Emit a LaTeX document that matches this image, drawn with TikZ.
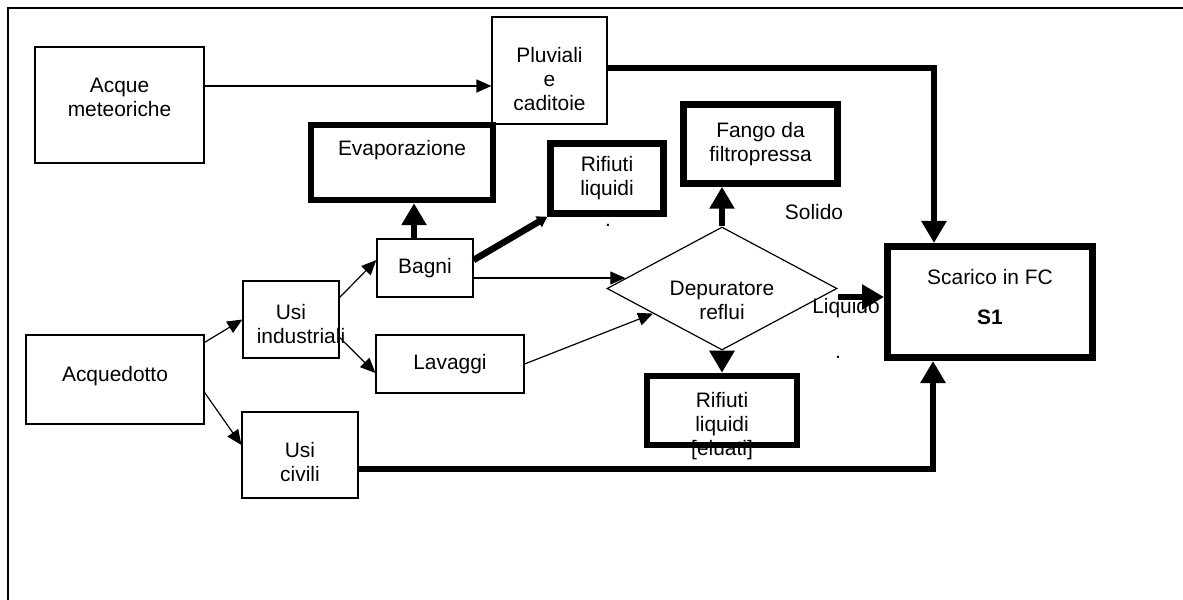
\documentclass[tikz,border=0pt]{standalone}
\usepackage{fontspec}
\setmainfont{Liberation Sans}
\usepackage{tikz}
\usetikzlibrary{positioning}
\usetikzlibrary{shapes.geometric}
\usetikzlibrary{arrows.meta}

\newcommand{\shifted}[2]{\raisebox{#1}[0pt][0pt]{\begin{tabular}{@{}c@{}}#2\end{tabular}}}

\begin{document}
\begin{tikzpicture}[x=1bp, y=-1bp,
    font=\fontsize{21}{24}\selectfont,
    box/.style={draw, line width=1.2bp, align=center, inner sep=0pt},
    boldbox/.style={draw, line width=6.5bp, align=center, inner sep=0pt},
    flow/.style={line width=1.2bp, -{Triangle[length=15bp, width=13bp]}},
    boldflow/.style={line width=6.5bp, -{Triangle[length=22bp, width=24bp]}}
    ]
\useasboundingbox (0,0) rectangle (1183,600);
\draw[line width=2bp] (8,600) -- (8,8) -- (1183,8);

% sources
\node[box, minimum width=169bp, minimum height=116bp] (acque) at (119.5,105) {\shifted{0bp}{Acque\\meteoriche}};
\node[box, minimum width=115bp, minimum height=107bp] (pluv) at (549.5,70.5) {\shifted{-16.5bp}{Pluviali\\e\\caditoie}};
\node[box, minimum width=178bp, minimum height=89bp] (acqued) at (115,379.5) {\shifted{-2bp}{Acquedotto}};
\node[box, minimum width=96bp, minimum height=77bp] (usiind) at (291,319.5) {\shifted{-12.5bp}{Usi\\\makebox[0pt]{\hspace*{20bp}industriali}}};
\node[box, minimum width=116bp, minimum height=86bp] (usiciv) at (300,455) {\shifted{-14.5bp}{Usi\\civili}};
\node[box, minimum width=96bp, minimum height=58bp] (bagni) at (425,268) {Bagni};
\node[box, minimum width=148bp, minimum height=58bp] (lavaggi) at (450,364) {Lavaggi};

% outputs
\node[boldbox, minimum width=182bp, minimum height=75bp] (evap) at (402,162.5) {\raisebox{7bp}[0pt][0pt]{Evaporazione}};
\node[boldbox, minimum width=113bp, minimum height=70bp] (rifA) at (607,178.5) {Rifiuti\\liquidi};
\node[boldbox, minimum width=154bp, minimum height=79bp] (fango) at (760.5,144) {Fango da\\filtropressa};
\node[boldbox, minimum width=150bp, minimum height=69bp] (rifB) at (722,410.5) {\shifted{-21.5bp}{Rifiuti\\liquidi\\{[eluati]}}};
\node[boldbox, line width=7bp, minimum width=205bp, minimum height=111bp] (scarico) at (990,302) {\shifted{-3bp}{Scarico in FC\\[16pt]\textbf{S1}}};

\node[diamond, draw, line width=1.2bp, inner sep=0pt, minimum width=230bp, minimum height=123bp] (dep) at (722,288.5)
{\shifted{-19.5bp}{Depuratore\\reflui}};

\node (solido) at (814,212) {Solido};
\node (liquido) at (846,308) {Liquido};
\node[inner sep=0pt] (dotA) at (608,225) {.};
\node[inner sep=0pt] (dotB) at (838,357) {.};

% thin flows
\draw[flow] ([yshift=19bp]acque.east) coordinate (a1) -- (a1 -| pluv.west);
\draw[flow] ([yshift=-8bp]acqued.north east) -- (usiind.west);
\draw[flow] ([yshift=-13bp]acqued.east) -- ([yshift=10bp]usiciv.west);
\draw[flow] ([yshift=22bp]usiind.east) -- ([yshift=8bp]bagni.west);
\draw[flow] ([yshift=-18bp]usiind.east) -- ([yshift=-9bp]lavaggi.west);
\draw[flow] ([yshift=-10bp]bagni.east) coordinate (b2) -- (b2 -| dep.174);
\draw[flow] (lavaggi.east) -- (dep.200);

% bold flows
\draw[boldflow] ([yshift=2.5bp]pluv.east) -| ([xshift=-56bp]scarico.north);
\draw[boldflow] ([yshift=-14bp]usiciv.east) -| ([xshift=-57bp]scarico.south);
\draw[boldflow] ([xshift=-11bp]bagni.north) coordinate (b1) -- (b1 |- evap.south);
\draw[boldflow, -{Triangle[length=10bp, width=12bp]}] ([yshift=8bp]bagni.east) -- (rifA.south west);
\draw[boldflow] (dep.north) -- (dep.north |- fango.south);
\draw[boldflow] (dep.south) -- (rifB.north);
\coordinate (l1) at ([yshift=5bp]scarico.west);
\draw[boldflow] (dep.east |- l1) -- (l1);
\end{tikzpicture}
\end{document}
